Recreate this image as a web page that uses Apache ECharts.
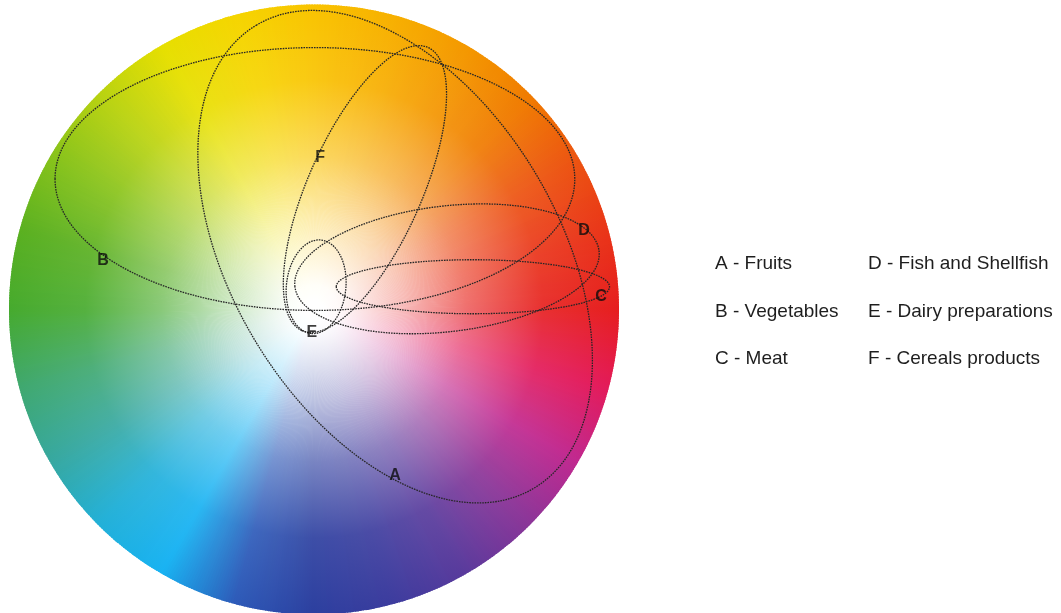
<!DOCTYPE html>
<html>
<head>
<meta charset="utf-8">
<title>Food groups on the colour wheel</title>
<script src="https://cdn.jsdelivr.net/npm/echarts@6/dist/echarts.min.js"></script>
<style>
  html, body { margin: 0; padding: 0; background: #fff; }
  #chart { width: 1061px; height: 613px; }
</style>
</head>
<body>
<div id="chart"></div>
<script>
// Rim colours of the wheel, every 15 deg clockwise from 12 o'clock.
const HUE_STOPS = [
  '#f9c300', '#f7b000', '#f49800', '#f07c00', '#ec5410', '#e93418',
  '#e61e1e', '#e31a5a', '#c0288f', '#8a3598', '#5a3a9c', '#3c3c9e',
  '#2c3f9f', '#2d5ab8', '#18b2f2', '#22b0d8', '#36a8a0', '#3fa870',
  '#46aa2e', '#5ab020', '#86c21a', '#b8d210', '#e6df00', '#f5d500'
];

// How much of the rim colour shows at a given fraction of the radius.
const RADIAL_POS = [0, 0.08, 0.3, 0.5, 0.75, 1];
const RADIAL_MIX = [0, 0.03, 0.32, 0.64, 0.92, 1];

// Data space: wheel centred on (0,0) with radius 100.
const WHEEL_RADIUS = 100;

const GROUP_KEYS = ['A', 'B', 'C', 'D', 'E', 'F'];
const GROUP_NAMES = ['Fruits', 'Vegetables', 'Meat', 'Fish and Shellfish', 'Dairy preparations', 'Cereals products'];

// One ellipse per food group: centre, semi-axes, tilt (deg, anticlockwise).
const ELLIPSE_CX = [26.6, 0.3, 52.1, 43.6, 0.7, 16.7];
const ELLIPSE_CY = [17.4, 43.0, 7.5, 13.4, 7.5, 39.7];
const ELLIPSE_RX = [88.5, 85.2, 44.8, 50.2, 15.4, 50.8];
const ELLIPSE_RY = [53.8, 43.3, 8.9, 20.7, 9.8, 18.7];
const ELLIPSE_ANGLE = [-59, 0, 0, 6.7, 84, 66];

// Where each group letter sits.
const LABEL_X = [26.6, -69.2, 94.1, 88.5, -0.7, 2.0];
const LABEL_Y = [-54.8, 16.1, 4.3, 25.9, -7.5, 50.2];

const FONT = 'Arial, "Liberation Sans", Helvetica, sans-serif';
const LINE_COLOR = '#262626';

const chart = echarts.init(document.getElementById('chart'), null, { renderer: 'canvas' });

// ── wheel: thin slices, white at the centre fading out to the rim colour ──
const RIM = HUE_STOPS.concat([HUE_STOPS[0]]);
const SLICES_PER_STOP = 30;
const sliceCount = HUE_STOPS.length * SLICES_PER_STOP;
const sliceDeg = 360 / sliceCount;
const wheelData = [];
for (let i = 0; i < sliceCount; i++) {
  wheelData.push([i * sliceDeg, (i + 1) * sliceDeg, (i + 0.5) / sliceCount]);
}

function renderSlice(params, api) {
  const c = api.coord([0, 0]);
  const r = api.size([WHEEL_RADIUS, 0])[0];
  const a0 = (api.value(0) - 90) * Math.PI / 180;
  const a1 = (api.value(1) - 90 + 0.3) * Math.PI / 180; // small overlap hides seams
  const col = echarts.color.lerp(api.value(2), RIM);
  const stops = RADIAL_POS.map((p, k) => ({
    offset: p,
    color: echarts.color.lerp(RADIAL_MIX[k], ['#ffffff', col])
  }));
  return {
    type: 'sector',
    shape: { cx: c[0], cy: c[1], r0: 0, r: r, startAngle: a0, endAngle: a1, clockwise: true },
    style: { fill: { type: 'radial', x: c[0], y: c[1], r: r, global: true, colorStops: stops } }
  };
}

function renderEllipse(params, api) {
  const c = api.coord([api.value(0), api.value(1)]);
  const rx = api.size([api.value(2), 0])[0];
  const ry = api.size([0, api.value(3)])[1];
  return {
    type: 'ellipse',
    x: c[0], y: c[1],
    rotation: api.value(4) * Math.PI / 180,
    shape: { cx: 0, cy: 0, rx: rx, ry: ry },
    style: { fill: 'none', stroke: LINE_COLOR, lineWidth: 1.3, lineDash: [1.6, 1] }
  };
}

const legendNames = GROUP_KEYS.map((k, i) => k + ' - ' + GROUP_NAMES[i]);

const series = [{
  name: 'wheel',
  type: 'custom',
  silent: true,
  renderItem: renderSlice,
  data: wheelData,
  z: 1
}];

GROUP_KEYS.forEach((k, i) => {
  series.push({
    name: legendNames[i],
    type: 'custom',
    silent: true,
    renderItem: renderEllipse,
    data: [[ELLIPSE_CX[i], ELLIPSE_CY[i], ELLIPSE_RX[i], ELLIPSE_RY[i], ELLIPSE_ANGLE[i]]],
    z: 2
  });
});

series.push({
  name: 'letters',
  type: 'scatter',
  silent: true,
  symbolSize: 1,
  itemStyle: { color: 'transparent' },
  label: {
    show: true, position: 'inside', formatter: '{b}',
    fontFamily: FONT, fontSize: 16, fontWeight: 'bold', color: '#0d0d0d'
  },
  data: GROUP_KEYS.map((k, i) => ({ name: k, value: [LABEL_X[i], LABEL_Y[i]] })),
  z: 3
});

const legendCommon = {
  orient: 'vertical',
  top: 249,
  itemGap: 27.5,
  itemWidth: 0,
  itemHeight: 20,
  selectedMode: false,
  textStyle: { fontFamily: FONT, fontSize: 19, color: '#1e1e1e', lineHeight: 20 }
};

chart.setOption({
  backgroundColor: '#ffffff',
  animation: false,
  grid: { left: 9, top: 6, width: 610, height: 610 },
  xAxis: { type: 'value', min: -WHEEL_RADIUS, max: WHEEL_RADIUS, show: false },
  yAxis: { type: 'value', min: -WHEEL_RADIUS, max: WHEEL_RADIUS, show: false },
  legend: [
    Object.assign({ left: 705, data: legendNames.slice(0, 3) }, legendCommon),
    Object.assign({ left: 858, data: legendNames.slice(3) }, legendCommon)
  ],
  series: series
});
</script>
</body>
</html>
